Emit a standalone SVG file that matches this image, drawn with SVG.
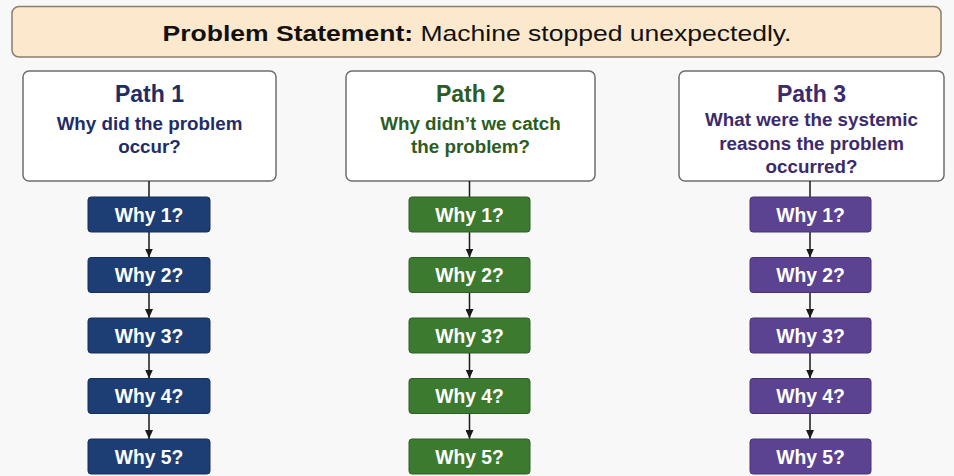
<svg xmlns="http://www.w3.org/2000/svg" width="954" height="476" viewBox="0 0 954 476">
<defs>
<marker id="ah" markerWidth="9" markerHeight="8" refX="9" refY="4" orient="auto" markerUnits="userSpaceOnUse" viewBox="0 0 9 8">
<path d="M0,0 L9,4 L0,8 Z" fill="#1a1a1a"/>
</marker>
</defs>
<style>
text{font-family:"Liberation Sans",Arial,sans-serif;text-anchor:middle}
.banner{fill:#fbe8cd;stroke:#8c7e6c;stroke-width:1.5}
.pbox{fill:#ffffff;stroke:#6e6e6e;stroke-width:1.5}
.title{font-size:23px;font-weight:bold}
.sub{font-size:18.8px;font-weight:bold}
.why{stroke-width:1}
.wt{font-size:19.3px;font-weight:bold;fill:#ffffff}
.p1{fill:#1d3e74;stroke:#15305c}
.p2{fill:#3c7a2f;stroke:#2d6023}
.p3{fill:#5c4392;stroke:#47327a}
.c1{fill:#1f2d66}
.c2{fill:#2c5c24}
.c3{fill:#3b2a6c}
.ln{stroke:#1a1a1a;stroke-width:1.5;fill:none}
</style>
<rect width="954" height="476" fill="#f8f8f8"/>
<g id="problem">
<rect class="banner" x="12" y="6.5" width="929" height="50.5" rx="7"/>
<text x="477" y="41" font-size="22.5" textLength="629" lengthAdjust="spacingAndGlyphs" fill="#111"><tspan font-weight="bold">Problem Statement:</tspan> Machine stopped unexpectedly.</text>
</g>
<g id="path1">
<rect class="pbox" x="23" y="71" width="253" height="110" rx="6"/>
<text class="title c1" x="149.5" y="102">Path 1</text>
<text class="sub c1" x="149.5" y="130">Why did the problem</text>
<text class="sub c1" x="149.5" y="153">occur?</text>
</g>
<g id="path2">
<rect class="pbox" x="346" y="71" width="249" height="110" rx="6"/>
<text class="title c2" x="470.5" y="102">Path 2</text>
<text class="sub c2" x="470.5" y="130">Why didn’t we catch</text>
<text class="sub c2" x="470.5" y="153">the problem?</text>
</g>
<g id="path3">
<rect class="pbox" x="679" y="71" width="265" height="110" rx="6"/>
<text class="title c3" x="811.5" y="102">Path 3</text>
<text class="sub c3" x="811.5" y="126">What were the systemic</text>
<text class="sub c3" x="811.5" y="149.5">reasons the problem</text>
<text class="sub c3" x="811.5" y="173">occurred?</text>
</g>
<g id="connectors">
<line class="ln" x1="149" y1="181" x2="149" y2="197"/>
<line class="ln" x1="149" y1="232" x2="149" y2="257.5" marker-end="url(#ah)"/>
<line class="ln" x1="149" y1="292.5" x2="149" y2="318" marker-end="url(#ah)"/>
<line class="ln" x1="149" y1="353" x2="149" y2="378.5" marker-end="url(#ah)"/>
<line class="ln" x1="149" y1="413.5" x2="149" y2="439" marker-end="url(#ah)"/>
<line class="ln" x1="469.5" y1="181" x2="469.5" y2="197"/>
<line class="ln" x1="469.5" y1="232" x2="469.5" y2="257.5" marker-end="url(#ah)"/>
<line class="ln" x1="469.5" y1="292.5" x2="469.5" y2="318" marker-end="url(#ah)"/>
<line class="ln" x1="469.5" y1="353" x2="469.5" y2="378.5" marker-end="url(#ah)"/>
<line class="ln" x1="469.5" y1="413.5" x2="469.5" y2="439" marker-end="url(#ah)"/>
<line class="ln" x1="810" y1="181" x2="810" y2="197"/>
<line class="ln" x1="810" y1="232" x2="810" y2="257.5" marker-end="url(#ah)"/>
<line class="ln" x1="810" y1="292.5" x2="810" y2="318" marker-end="url(#ah)"/>
<line class="ln" x1="810" y1="353" x2="810" y2="378.5" marker-end="url(#ah)"/>
<line class="ln" x1="810" y1="413.5" x2="810" y2="439" marker-end="url(#ah)"/>
</g>
<g id="p1w1"><rect class="why p1" x="88" y="197" width="122" height="35" rx="3"/><text class="wt" x="149" y="221.5">Why 1?</text></g>
<g id="p1w2"><rect class="why p1" x="88" y="257.5" width="122" height="35" rx="3"/><text class="wt" x="149" y="282">Why 2?</text></g>
<g id="p1w3"><rect class="why p1" x="88" y="318" width="122" height="35" rx="3"/><text class="wt" x="149" y="342.5">Why 3?</text></g>
<g id="p1w4"><rect class="why p1" x="88" y="378.5" width="122" height="35" rx="3"/><text class="wt" x="149" y="403">Why 4?</text></g>
<g id="p1w5"><rect class="why p1" x="88" y="439" width="122" height="35" rx="3"/><text class="wt" x="149" y="463.5">Why 5?</text></g>
<g id="p2w1"><rect class="why p2" x="409" y="197" width="121" height="35" rx="3"/><text class="wt" x="469.5" y="221.5">Why 1?</text></g>
<g id="p2w2"><rect class="why p2" x="409" y="257.5" width="121" height="35" rx="3"/><text class="wt" x="469.5" y="282">Why 2?</text></g>
<g id="p2w3"><rect class="why p2" x="409" y="318" width="121" height="35" rx="3"/><text class="wt" x="469.5" y="342.5">Why 3?</text></g>
<g id="p2w4"><rect class="why p2" x="409" y="378.5" width="121" height="35" rx="3"/><text class="wt" x="469.5" y="403">Why 4?</text></g>
<g id="p2w5"><rect class="why p2" x="409" y="439" width="121" height="35" rx="3"/><text class="wt" x="469.5" y="463.5">Why 5?</text></g>
<g id="p3w1"><rect class="why p3" x="750" y="197" width="121" height="35" rx="3"/><text class="wt" x="810.5" y="221.5">Why 1?</text></g>
<g id="p3w2"><rect class="why p3" x="750" y="257.5" width="121" height="35" rx="3"/><text class="wt" x="810.5" y="282">Why 2?</text></g>
<g id="p3w3"><rect class="why p3" x="750" y="318" width="121" height="35" rx="3"/><text class="wt" x="810.5" y="342.5">Why 3?</text></g>
<g id="p3w4"><rect class="why p3" x="750" y="378.5" width="121" height="35" rx="3"/><text class="wt" x="810.5" y="403">Why 4?</text></g>
<g id="p3w5"><rect class="why p3" x="750" y="439" width="121" height="35" rx="3"/><text class="wt" x="810.5" y="463.5">Why 5?</text></g>
</svg>
